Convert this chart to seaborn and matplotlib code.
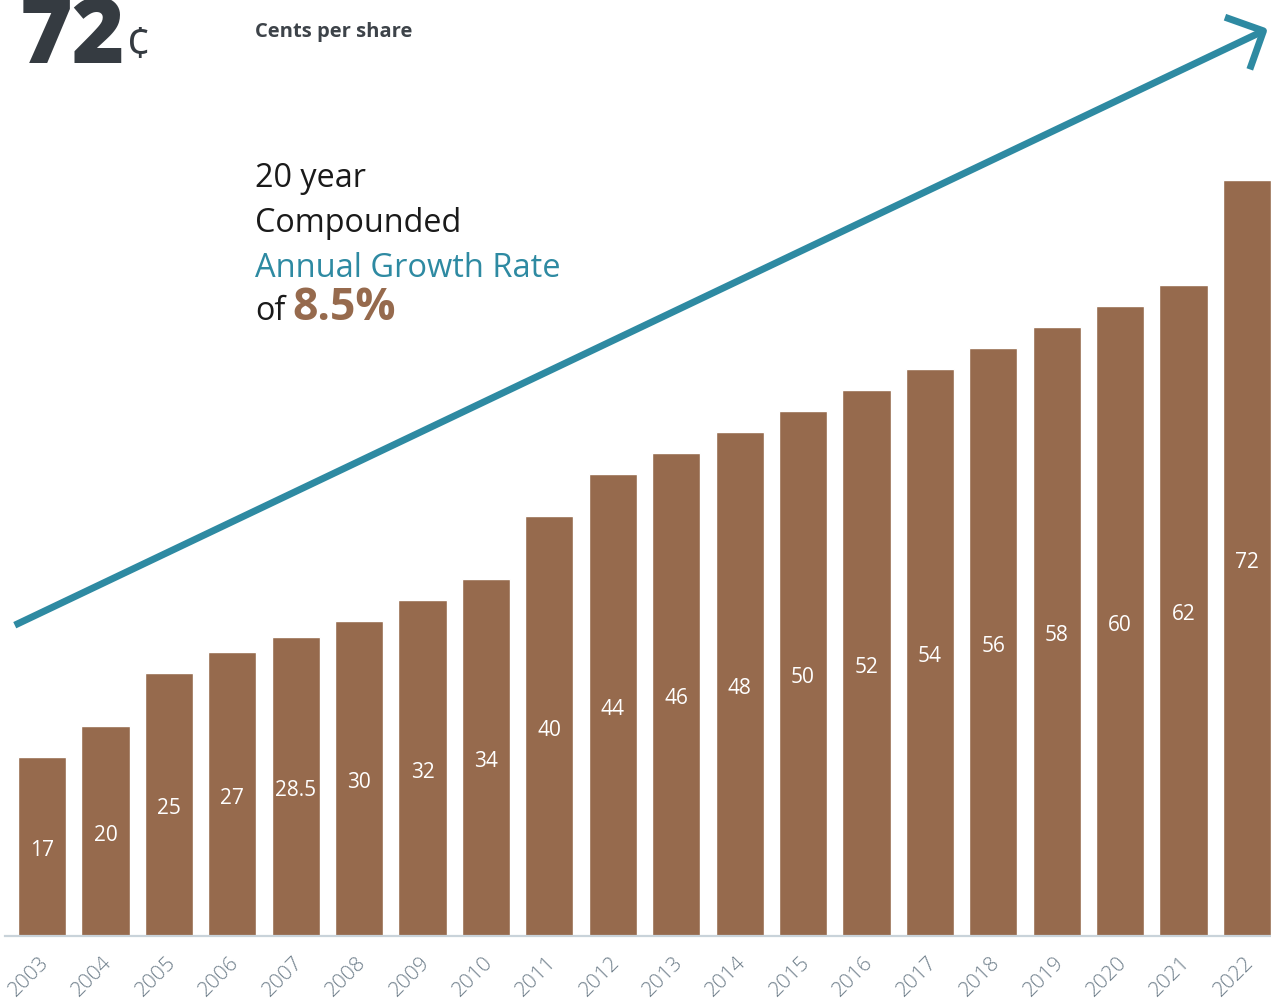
import numpy
import pandas
import seaborn
import matplotlib
matplotlib.use("Agg")
from matplotlib import pyplot as plt
from matplotlib.transforms import ScaledTranslation

# data
years = [str(y) for y in range(2003, 2023)]
cents_per_share = [17, 20, 25, 27, 28.5, 30, 32, 34, 40, 44,
                   46, 48, 50, 52, 54, 56, 58, 60, 62, 72]
bar_labels = [f"{v:g}" for v in cents_per_share]

BAR_COLOR = "#966a4d"
TEAL = "#2e8aa2"
DARK = "#353b41"
TICK_COLOR = "#6f7f8b"

W, H = 1271, 998


def px(x, y):
    """pixel (from top-left) -> figure fraction"""
    return x / W, 1 - y / H


seaborn.set_theme(style="white")
plt.rcParams["font.family"] = ["Open Sans", "DejaVu Sans"]

fig = plt.figure(figsize=(W / 100, H / 100), dpi=100)
ax = fig.add_axes([5 / W, 62 / H, 1266 / W, 936 / H])

df = pandas.DataFrame({"year": years, "value": cents_per_share})
seaborn.barplot(data=df, x="year", y="value", color=BAR_COLOR, saturation=1,
                width=0.76, ax=ax)

ax.bar_label(ax.containers[0], labels=bar_labels, label_type="center",
             color="white", fontsize=15, padding=-3)

ax.set_xlim(-0.584, 19.379)
ax.set_ylim(0, 89.14)
ax.set_xlabel("")
ax.set_ylabel("")
ax.set_yticks([])
ax.spines[["left", "right", "top"]].set_visible(False)
ax.spines["bottom"].set_color("#c9d3da")
ax.spines["bottom"].set_linewidth(1.6)
ax.tick_params(axis="x", length=0, pad=12)
shift = ScaledTranslation(11 / 100, 0, fig.dpi_scale_trans)
for lbl in ax.get_xticklabels():
    lbl.set_rotation(45)
    lbl.set_ha("right")
    lbl.set_va("top")
    lbl.set_color(TICK_COLOR)
    lbl.set_fontsize(15)
    lbl.set_fontweight("light")
    lbl.set_transform(lbl.get_transform() + shift)

# growth arrow
ax.annotate(
    "",
    xy=(19.33, 86.4),
    xytext=(-0.43, 29.6),
    arrowprops=dict(
        arrowstyle="->, head_length=0.4, head_width=0.4",
        lw=5,
        color=TEAL,
        mutation_scale=52,
        shrinkA=0,
        shrinkB=0,
        capstyle="butt",
    ),
    annotation_clip=False,
)

# header
fig.text(*px(20, 63), "72", fontsize=65, fontweight="heavy", color=DARK,
         va="baseline", ha="left")
fig.text(*px(126, 58), "¢", fontsize=32, color=DARK, va="baseline", ha="left")
fig.text(*px(255, 37), "Cents per share", fontsize=14.5, fontweight="bold",
         color="#3d4349", va="baseline", ha="left")

# annotation block
fig.text(*px(255, 187), "20 year", fontsize=23.3, color="#1a1a1a", va="baseline")
fig.text(*px(255, 232), "Compounded", fontsize=23.3, color="#1a1a1a", va="baseline")
fig.text(*px(255, 277), "Annual Growth Rate", fontsize=23.5, color=TEAL, va="baseline")
fig.text(*px(255, 320), "of", fontsize=23.3, color="#1a1a1a", va="baseline")
fig.text(*px(292, 320), "8.5%", fontsize=32, fontweight="bold", color=BAR_COLOR,
         va="baseline")

fig.savefig("out.png", dpi=100)
